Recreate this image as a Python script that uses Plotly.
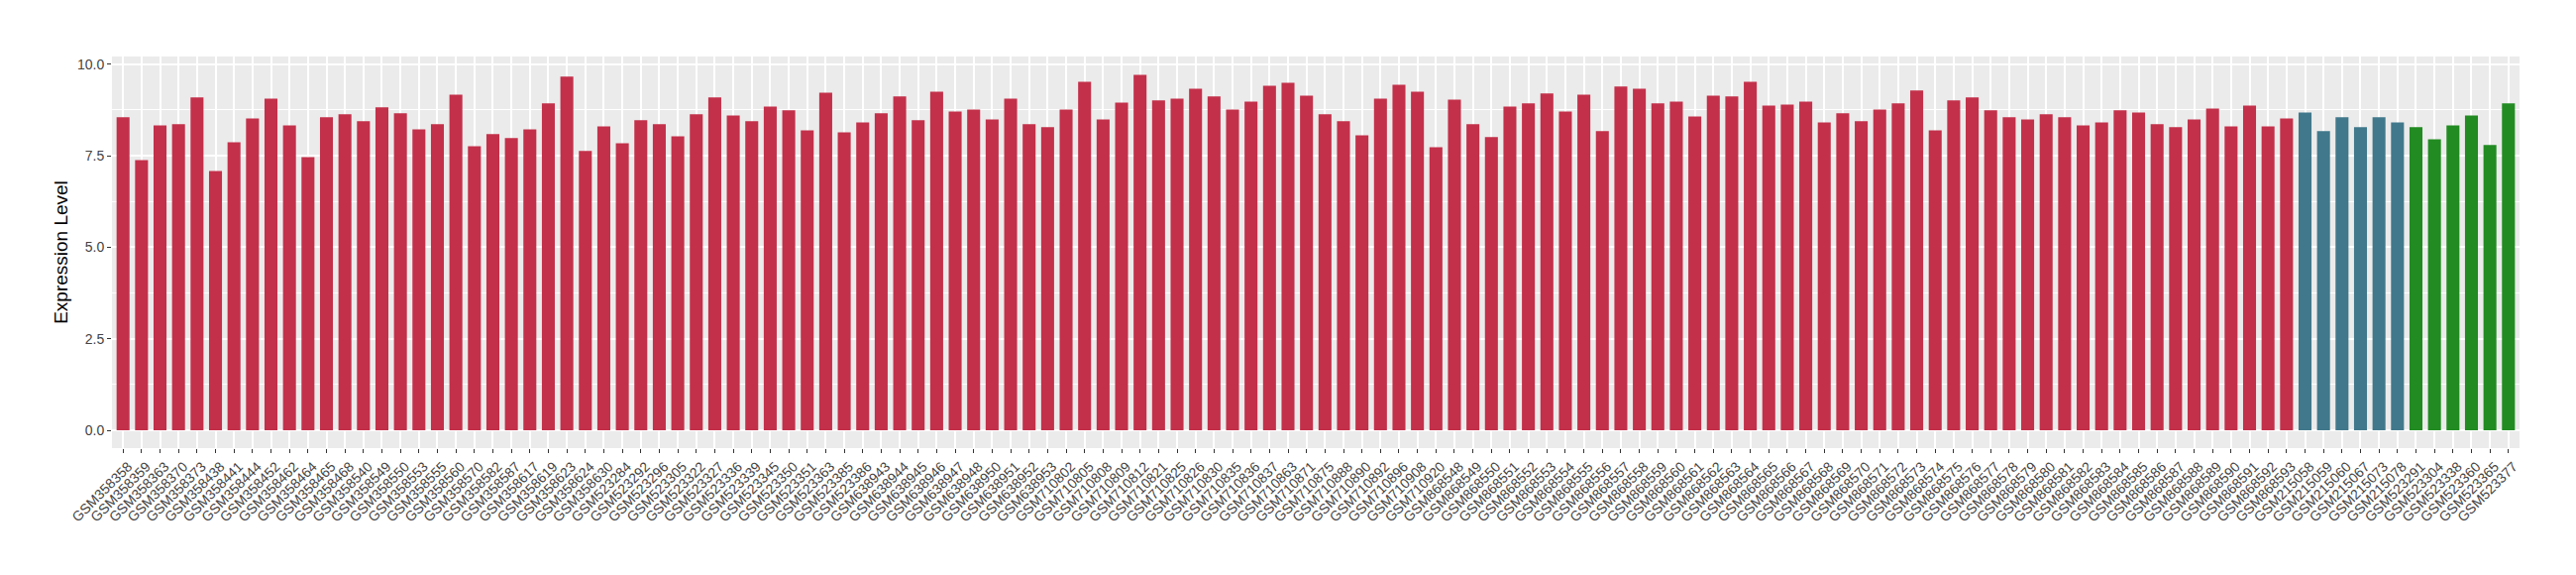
import plotly.graph_objects as go

red_samples = [
    "GSM358358", "GSM358359", "GSM358363", "GSM358370", "GSM358373", "GSM358438", "GSM358441", "GSM358444",
    "GSM358452", "GSM358462", "GSM358464", "GSM358465", "GSM358468", "GSM358540", "GSM358549", "GSM358550",
    "GSM358553", "GSM358555", "GSM358560", "GSM358570", "GSM358582", "GSM358587", "GSM358617", "GSM358619",
    "GSM358623", "GSM358624", "GSM358630", "GSM523284", "GSM523292", "GSM523296", "GSM523305", "GSM523322",
    "GSM523327", "GSM523336", "GSM523339", "GSM523345", "GSM523350", "GSM523351", "GSM523363", "GSM523385",
    "GSM523386", "GSM638943", "GSM638944", "GSM638945", "GSM638946", "GSM638947", "GSM638948", "GSM638950",
    "GSM638951", "GSM638952", "GSM638953", "GSM710802", "GSM710805", "GSM710808", "GSM710809", "GSM710812",
    "GSM710821", "GSM710825", "GSM710826", "GSM710830", "GSM710835", "GSM710836", "GSM710837", "GSM710863",
    "GSM710871", "GSM710875", "GSM710888", "GSM710890", "GSM710892", "GSM710896", "GSM710908", "GSM710920",
    "GSM868548", "GSM868549", "GSM868550", "GSM868551", "GSM868552", "GSM868553", "GSM868554", "GSM868555",
    "GSM868556", "GSM868557", "GSM868558", "GSM868559", "GSM868560", "GSM868561", "GSM868562", "GSM868563",
    "GSM868564", "GSM868565", "GSM868566", "GSM868567", "GSM868568", "GSM868569", "GSM868570", "GSM868571",
    "GSM868572", "GSM868573", "GSM868574", "GSM868575", "GSM868576", "GSM868577", "GSM868578", "GSM868579",
    "GSM868580", "GSM868581", "GSM868582", "GSM868583", "GSM868584", "GSM868585", "GSM868586", "GSM868587",
    "GSM868588", "GSM868589", "GSM868590", "GSM868591", "GSM868592", "GSM868593",
]
red_values = [
    8.55, 7.38, 8.33, 8.36, 9.09, 7.08, 7.87, 8.52,
    9.06, 8.33, 7.46, 8.55, 8.63, 8.44, 8.82, 8.66,
    8.22, 8.36, 9.17, 7.76, 8.09, 7.98, 8.22, 8.93,
    9.66, 7.63, 8.30, 7.84, 8.47, 8.36, 8.03, 8.63,
    9.09, 8.60, 8.44, 8.84, 8.74, 8.19, 9.22, 8.14,
    8.41, 8.66, 9.12, 8.47, 9.25, 8.71, 8.76, 8.49,
    9.06, 8.36, 8.28, 8.76, 9.52, 8.49, 8.95, 9.71,
    9.01, 9.06, 9.33, 9.12, 8.76, 8.98, 9.41, 9.49,
    9.14, 8.63, 8.44, 8.06, 9.06, 9.44, 9.25, 7.73,
    9.03, 8.36, 8.01, 8.84, 8.93, 9.20, 8.71, 9.17,
    8.17, 9.39, 9.33, 8.93, 8.98, 8.57, 9.14, 9.12,
    9.52, 8.87, 8.90, 8.98, 8.41, 8.66, 8.44, 8.76,
    8.93, 9.28, 8.19, 9.01, 9.09, 8.74, 8.55, 8.49,
    8.63, 8.55, 8.33, 8.41, 8.74, 8.68, 8.36, 8.28,
    8.49, 8.79, 8.30, 8.87, 8.30, 8.52,
]

blue_samples = ["GSM215058", "GSM215059", "GSM215060", "GSM215067", "GSM215073", "GSM215078"]
blue_values = [8.68, 8.17, 8.55, 8.28, 8.55, 8.41]

green_samples = ["GSM523291", "GSM523304", "GSM523338", "GSM523360", "GSM523365", "GSM523377"]
green_values = [8.28, 7.95, 8.33, 8.60, 7.79, 8.93]

y_ticks = [0, 2.5, 5.0, 7.5, 10.0]
y_tick_labels = ["0.0", "2.5", "5.0", "7.5", "10.0"]

all_samples = red_samples + blue_samples + green_samples

FONT = "Liberation Sans, Arial, Helvetica, sans-serif"

fig = go.Figure()
for xs, ys, col in [(red_samples, red_values, "#C3304A"),
                    (blue_samples, blue_values, "#41788B"),
                    (green_samples, green_values, "#228B22")]:
    fig.add_trace(go.Bar(x=xs, y=ys, marker=dict(color=col, line=dict(width=0)),
                         width=0.7, showlegend=False))

# page body has an 8px margin, so the figure is 8px smaller and margins shifted
fig.update_layout(
    width=2592, height=572,
    margin=dict(l=105, r=57, t=49, b=128, autoexpand=False),
    paper_bgcolor="white",
    plot_bgcolor="#EBEBEB",
    barmode="overlay",
    font=dict(family=FONT, color="#4D4D4D", size=14),
)
fig.update_xaxes(
    type="category",
    categoryorder="array", categoryarray=all_samples,
    tickmode="array", tickvals=all_samples, ticktext=all_samples,
    range=[-0.6, len(all_samples) - 0.4],
    tickangle=-45,
    tickfont=dict(family=FONT, size=14, color="#444444"),
    ticklabelshift=5,
    ticks="outside", ticklen=4, tickwidth=1, tickcolor="#333333",
    showgrid=True, gridcolor="white", gridwidth=1.5,
    showline=False, zeroline=False,
    automargin=False,
)
fig.update_yaxes(
    range=[-0.486, 10.21],
    tickmode="array", tickvals=y_ticks, ticktext=y_tick_labels,
    tickfont=dict(family=FONT, size=14, color="#444444"),
    ticks="outside", ticklen=4, tickwidth=1, tickcolor="#333333",
    showgrid=True, gridcolor="white", gridwidth=2,
    minor=dict(dtick=1.25, tick0=0, showgrid=True, gridcolor="white", gridwidth=1, ticks=""),
    showline=False, zeroline=False,
    title=dict(text="Expression Level", font=dict(family=FONT, size=19, color="black"), standoff=4),
    automargin=False,
)

fig.write_html("out.html")
